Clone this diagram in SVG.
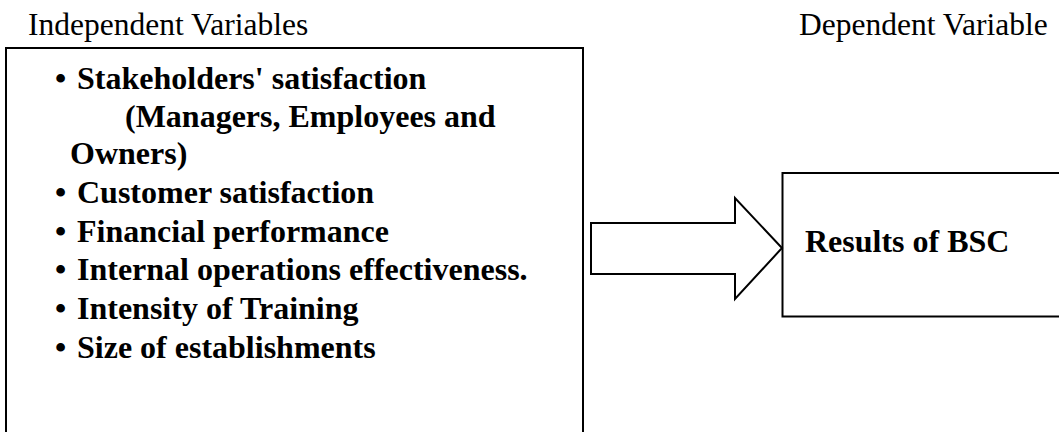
<svg xmlns="http://www.w3.org/2000/svg" width="1059" height="432" viewBox="0 0 1059 432">
<style>
.hdr{font-family:"Liberation Serif","Times New Roman",serif;font-size:31.5px;fill:#000}
.b{font-family:"Liberation Serif","Times New Roman",serif;font-size:32px;font-weight:bold;fill:#000}
.box{fill:#fff;stroke:#000;stroke-width:2}
</style>
<rect width="1059" height="432" fill="#fff"/>
<text class="hdr" x="28" y="35">Independent Variables</text>
<text class="hdr" x="799" y="35">Dependent Variable</text>
<g id="independent">
<path class="box" d="M6,440 V48 H583 V440"/>
<g class="b">
<text x="55" y="89">•</text><text x="77" y="89">Stakeholders' satisfaction</text>
<text x="125" y="127">(Managers, Employees and</text>
<text x="70" y="164">Owners)</text>
<text x="55" y="203">•</text><text x="77" y="203">Customer satisfaction</text>
<text x="55" y="242">•</text><text x="77" y="242">Financial performance</text>
<text x="55" y="280">•</text><text x="77" y="280">Internal operations effectiveness.</text>
<text x="55" y="319">•</text><text x="77" y="319">Intensity of Training</text>
<text x="55" y="358">•</text><text x="77" y="358">Size of establishments</text>
</g>
</g>
<g id="dependent">
<path class="box" d="M1062,173 H782.5 V316.5 H1062"/>
<text class="b" x="805" y="252">Results of BSC</text>
</g>
<g id="connectors">
<polygon class="box" points="591,223 735,223 735,198 782,248 735,299 735,274 591,274"/>
</g>
</svg>
